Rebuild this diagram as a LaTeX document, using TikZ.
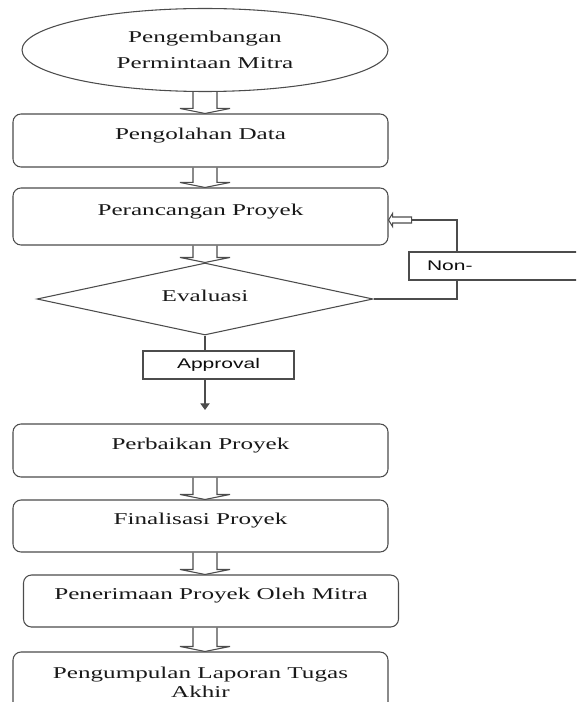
\documentclass[tikz,border=0pt]{standalone}
\usepackage{fontspec}
\setmainfont{Liberation Serif}[FakeStretch=1.52]
\newfontfamily\labelfont{Liberation Sans}[FakeStretch=1.5]
\usetikzlibrary{shapes.geometric,arrows.meta,calc}
\begin{document}
\begin{tikzpicture}[x=0.75pt,y=-0.75pt,
  line/.style={draw=black!70, line width=0.8pt},
  pbase/.style={line, rectangle, rounded corners=6pt, minimum width=281.25pt, inner sep=0pt,
    font=\fontsize{12.4}{14.5}\selectfont, text=black!90},
  proc/.style={pbase, text height=9pt, text depth=11pt},
  lbl/.style={line, rectangle, inner sep=0pt, font=\labelfont\fontsize{10.5}{12}\selectfont, text=black!95},
  hollow/.style={line, to path={let \p1=(\tikztostart), \p2=(\tikztotarget) in
    (\x2-9pt,\y1) -- (\x2-9pt,\y2+3.75pt) -- (\x2-18.75pt,\y2+3.75pt) -- (\x2,\y2)
    -- (\x2+18.75pt,\y2+3.75pt) -- (\x2+9pt,\y2+3.75pt) -- (\x2+9pt,\y1)}}
]
\useasboundingbox (0,0) rectangle (576,702);
\clip (0,0) rectangle (576,702);

% nodes
\node[ellipse, line, minimum width=274.5pt, minimum height=62.25pt, inner sep=0pt, align=center,
  font=\fontsize{12.4}{20}\selectfont, text=black!90] (e) at (205,50) {Pengembangan\\Permintaan Mitra};
\node[proc, minimum height=39.75pt] (b1) at (200.5,140.5) {Pengolahan Data};
\node[proc, minimum height=42.75pt] (b2) at (200.5,216.5) {Perancangan Proyek};
\node[diamond, line, aspect=4.67, minimum width=252pt, minimum height=54pt, inner sep=0pt,
  font=\fontsize{12.4}{14.5}\selectfont, text=black!90, text height=9pt, text depth=6pt] (d) at (205,299) {Evaluasi};
\node[lbl, minimum width=113.25pt, minimum height=21pt] (ap) at (218.5,365) {Approval};
\coordinate (tip) at (205,410);
\node[proc, minimum height=39.75pt] (b3) at (200.5,450.5) {Perbaikan Proyek};
\node[proc, minimum height=39pt] (b4) at (200.5,526) {Finalisasi Proyek};
\node[proc, minimum height=39pt] (b5) at (211,601) {Penerimaan Proyek Oleh Mitra};
\node[pbase, minimum height=45pt, align=center] (b6) at (200.5,682) {Pengumpulan Laporan Tugas\\Akhir};
\node[lbl, minimum height=21pt, text width=116.25pt, inner xsep=13.5pt, align=left] (non) at (504.5,266) {Non-};

% main flow
\draw[hollow] (e.south) to (e.south |- b1.north);
\draw[hollow] (e.south |- b1.south) to (e.south |- b2.north);
\draw[hollow] (e.south |- b2.south) to (d.north);
\draw[line] (d.south) -- (ap.north -| d.south);
\draw[line, -{Triangle[width=7pt,length=5pt]}] (ap.south -| d.south) -- (tip);
\draw[hollow] (e.south |- b3.south) to (e.south |- b4.north);
\draw[hollow] (e.south |- b4.south) to (e.south |- b5.north);
\draw[hollow] (e.south |- b5.south) to (e.south |- b6.north);

% feedback loop
\coordinate (fx) at (457,0);
\coordinate (fin) at ($(b2.east)+(0,3.5)$);
\draw[line] (d.east) -| (fx |- non.south);
\draw[line] (fx |- non.north) |- ($(fin)+(23,0)$);
\draw[line] (fin) -- ++(4,-6.5) -- ++(0,3.5) -- ++(19,0) -- ++(0,6) -- ++(-19,0) -- ++(0,3.5) -- cycle;
\end{tikzpicture}
\end{document}
